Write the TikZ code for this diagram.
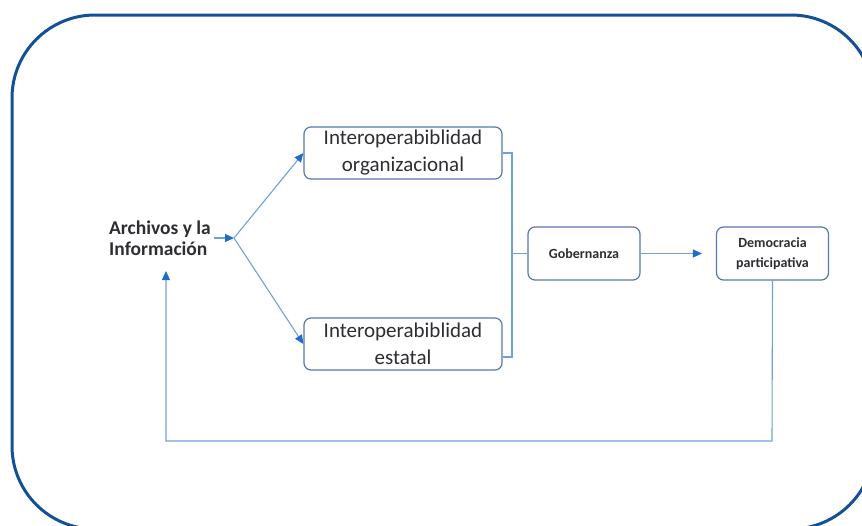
\documentclass[tikz,border=0pt]{standalone}
\usepackage{fontspec}
\setmainfont{Carlito}
\usetikzlibrary{arrows.meta}
\definecolor{frameblue}{RGB}{20,80,150}
\definecolor{boxblue}{RGB}{85,120,175}
\definecolor{linkblue}{RGB}{110,160,220}
\definecolor{tipblue}{RGB}{30,110,200}
\definecolor{txt}{RGB}{45,45,50}
\tikzset{
  x=1pt, y=-1pt,
  bigbox/.style={draw=boxblue, line width=1.2pt, rounded corners=7pt, minimum width=198pt, minimum height=52pt, inner sep=0pt, align=center, text=txt, font=\fontsize{21}{27}\selectfont},
  smallbox/.style={draw=boxblue, line width=1.2pt, rounded corners=7pt, minimum width=112pt, minimum height=53pt, inner sep=0pt, align=center, text=txt, font=\fontsize{14}{20}\selectfont\bfseries},
  link/.style={draw=linkblue, line width=1.1pt},
  arr/.style={link, -{Triangle[length=9pt, width=8pt, fill=tipblue, color=tipblue]}},
}
\begin{document}
\begin{tikzpicture}
\useasboundingbox (0,0) rectangle (862,525);
\draw[frameblue, line width=3pt, rounded corners=83pt] (12,15) rectangle (874,529);
\node[align=left, text=txt, font=\fontsize{19.5}{21.5}\selectfont\bfseries, inner sep=0pt] (arch) at (160,238) {Archivos y la\\Información};
\node[bigbox] (org) at (403,153) {Interoperabiblidad\\organizacional};
\node[bigbox] (est) at (403,344) {Interoperabiblidad\\estatal};
\node[smallbox] (gob) at (584,253.5) {Gobernanza};
\node[smallbox] (dem) at (772.5,253.5) {Democracia\\participativa};
\coordinate (start) at (214,238);
\coordinate (split) at (234,238);
\coordinate (brk) at (512,253.5);
\coordinate (fb1) at (772,441);
\coordinate (fb2) at (166,441);
\coordinate (fbend) at (166,271);
\draw[arr] (start) -- (split);
\draw[arr] (split) -- (org.west);
\draw[arr] (split) -- (est.west);
\draw[link] (org.east) -- (512,153) -- (512,357) -- (est.east |- 0,357);
\draw[link] (brk) -- (gob.west);
\draw[arr] (gob.east) -- ([xshift=-14pt]dem.west);
\draw[arr] (dem.south) -- (fb1) -- (fb2) -- (fbend);
\end{tikzpicture}
\end{document}
